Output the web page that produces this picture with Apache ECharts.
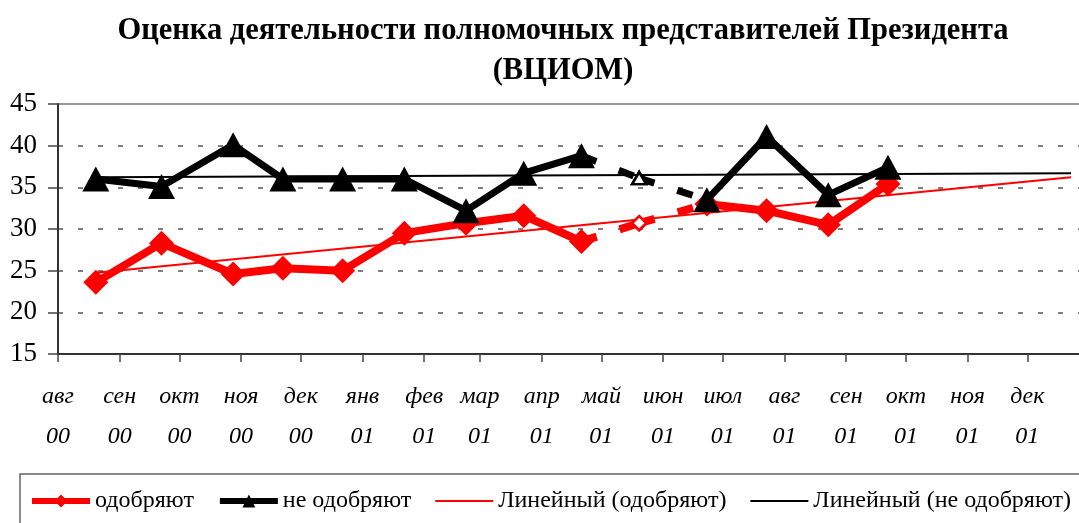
<!DOCTYPE html>
<html>
<head>
<meta charset="utf-8">
<script src="https://cdn.jsdelivr.net/npm/echarts/dist/echarts.min.js"></script>
<style>
  html, body { margin: 0; padding: 0; background: #fff; }
  #chart { width: 1079px; height: 523px; }
</style>
</head>
<body>
<div id="chart"></div>
<script>
  // подписи месяцев на оси X
  const monthNames = ['янв', 'фев', 'мар', 'апр', 'май', 'июн', 'июл', 'авг', 'сен', 'окт', 'ноя', 'дек']

  // даты опросов
  const surveyDates = ['2000-08-20', '2000-09-22', '2000-10-28', '2000-11-22', '2000-12-22', '2001-01-22',
    '2001-02-22', '2001-03-23', '2001-04-21', '2001-05-20', '2001-06-23', '2001-07-23', '2001-08-23', '2001-09-22']
  const approve = [23.6, 28.3, 24.6, 25.3, 25.0, 29.5, 30.7, 31.6, 28.5, 30.7, 33.0, 32.2, 30.5, 35.4]
  const disapprove = [36.0, 35.1, 40.1, 36.0, 36.0, 36.0, 32.2, 36.7, 38.8, 36.1, 33.5, 41.1, 34.1, 37.4]
  const gapIndex = 9 // май 01 - точка без маркера, соединена пунктиром

  // линии тренда
  const trendDates = ['2000-08-20', '2001-12-23']
  const approveTrend = [24.75, 36.2]
  const disapproveTrend = [36.2, 36.7]

  const serif = 'Liberation Serif'
  const red = '#ff0000'
  const black = '#000000'

  function solidData(values) {
    return values.map((v, i) => [surveyDates[i], i === gapIndex ? '-' : v])
  }

  // пунктирные отрезки до и после пропущенной точки
  function dashedSegments(name, values, color, width, symbol, hollowSize) {
    const res = []
    for (let i = gapIndex - 1; i <= gapIndex; i++) {
      res.push({
        name: name,
        type: 'line',
        z: 3,
        silent: true,
        data: [i, i + 1].map(k => ({
          value: [surveyDates[k], values[k]],
          symbol: k === gapIndex ? symbol : 'none',
          symbolSize: hollowSize
        })),
        lineStyle: {color: color, width: width, type: [16, 24], cap: 'butt'},
        itemStyle: {color: '#fff', borderColor: color, borderWidth: 2.5}
      })
    }
    return res
  }

  const chart = echarts.init(document.getElementById('chart'))
  chart.setOption({
    animation: false,
    title: {
      text: 'Оценка деятельности полномочных представителей Президента\n(ВЦИОМ)',
      left: 558,
      textAlign: 'center',
      top: 6,
      textStyle: {fontFamily: serif, fontWeight: 'bold', fontSize: 30.5, lineHeight: 40, color: '#000'}
    },
    legend: {
      left: 20,
      top: 474,
      width: 1150,
      padding: [15, 12, 14, 9],
      itemGap: 23,
      itemWidth: 58,
      itemHeight: 16,
      borderColor: '#666',
      borderWidth: 1.5,
      textStyle: {fontFamily: serif, fontSize: 24, color: '#000'},
      data: [
        {name: 'одобряют', lineStyle: {width: 6}},
        {name: 'не одобряют', lineStyle: {width: 6}},
        {name: 'Линейный (одобряют)', lineStyle: {width: 2}, itemStyle: {opacity: 0}},
        {name: 'Линейный (не одобряют)', lineStyle: {width: 2}, itemStyle: {opacity: 0}}
      ]
    },
    grid: {
      left: 58,
      top: 104,
      width: 1031,
      bottom: 169,
      outerBoundsMode: 'none',
      containLabel: false,
      show: true,
      borderColor: '#999',
      borderWidth: 2
    },
    xAxis: {
      type: 'time',
      min: +new Date(2000, 7, 1),
      max: +new Date(2002, 0, 1),
      minInterval: 28 * 864e5,
      maxInterval: 31 * 864e5,
      splitNumber: 17,
      axisLine: {lineStyle: {color: '#333', width: 2}},
      axisTick: {show: true, length: 8, lineStyle: {color: '#444', width: 1.5}},
      splitLine: {show: false},
      axisLabel: {
        margin: 23,
        fontFamily: serif,
        fontStyle: 'italic',
        fontSize: 24,
        lineHeight: 40,
        color: '#000',
        formatter: function (val) {
          const d = new Date(val)
          return monthNames[d.getMonth()] + '\n' + String(d.getFullYear()).slice(2)
        }
      }
    },
    yAxis: {
      type: 'value',
      min: 15,
      max: 45,
      interval: 5,
      axisLine: {show: true, lineStyle: {color: '#333', width: 2}},
      axisTick: {show: true, length: 10, lineStyle: {color: '#444', width: 1.5}},
      axisLabel: {margin: 21, fontFamily: serif, fontSize: 27, color: '#000'},
      splitLine: {
        show: true,
        lineStyle: {
          color: ['#555', '#555', '#555', '#555', '#555', '#555', 'rgba(0,0,0,0)'],
          width: 1.5,
          type: [5, 15]
        }
      }
    },
    series: [
      {
        name: 'Линейный (одобряют)',
        type: 'line',
        z: 1,
        symbol: 'none',
        data: trendDates.map((d, i) => [d, approveTrend[i]]),
        lineStyle: {color: red, width: 2},
        itemStyle: {color: red}
      },
      {
        name: 'Линейный (не одобряют)',
        type: 'line',
        z: 1,
        symbol: 'none',
        data: trendDates.map((d, i) => [d, disapproveTrend[i]]),
        lineStyle: {color: black, width: 2},
        itemStyle: {color: black}
      },
      {
        name: 'одобряют',
        type: 'line',
        z: 4,
        data: solidData(approve),
        connectNulls: false,
        symbol: 'diamond',
        symbolSize: [25, 25],
        lineStyle: {color: red, width: 8},
        itemStyle: {color: red}
      },
      ...dashedSegments('одобряют-пунктир', approve, red, 8, 'diamond', [14, 14]),
      {
        name: 'не одобряют',
        type: 'line',
        z: 5,
        data: solidData(disapprove),
        connectNulls: false,
        symbol: 'triangle',
        symbolSize: [27, 25],
        lineStyle: {color: black, width: 7},
        itemStyle: {color: black}
      },
      ...dashedSegments('не одобряют-пунктир', disapprove, black, 7, 'triangle', [14, 12])
    ]
  })
</script>
</body>
</html>
